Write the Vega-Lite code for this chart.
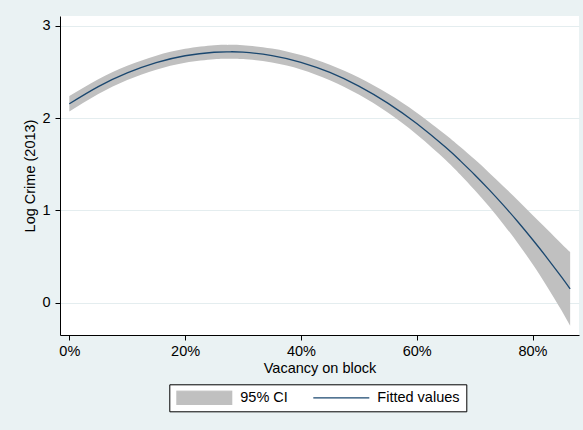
{
  "$schema": "https://vega.github.io/schema/vega-lite/v6.json",
  "width": 519,
  "height": 319,
  "autosize": {"type": "none"},
  "padding": {"left": 60, "top": 16, "right": 4, "bottom": 95},
  "background": "#EAF2F3",
  "config": {
    "view": {"fill": "white", "stroke": null},
    "font": "Liberation Sans",
    "axis": {
      "domainColor": "black",
      "domainWidth": 1,
      "tickColor": "black",
      "tickSize": 5,
      "tickWidth": 1,
      "labelColor": "black",
      "titleColor": "black",
      "labelFont": "Liberation Sans",
      "titleFont": "Liberation Sans",
      "labelFontSize": 14.5,
      "titleFontSize": 14.5,
      "titleFontWeight": "normal",
      "gridColor": "#E4EDEF",
      "gridWidth": 1
    },
    "legend": {
      "labelFont": "Liberation Sans",
      "labelFontSize": 14.5,
      "labelColor": "black",
      "title": null,
      "orient": "none",
      "legendX": 109.3,
      "legendY": 368.3,
      "direction": "horizontal",
      "columns": 2,
      "padding": 6,
      "strokeColor": "black",
      "fillColor": "white",
      "symbolSize": 3136,
      "symbolStrokeWidth": 1.3,
      "clipHeight": 15,
      "labelOffset": 7,
      "columnPadding": 24
    }
  },
  "data": {
    "values": [
      {"vac": 0.000, "fit": 2.156, "lo": 2.072, "hi": 2.240},
      {"vac": 0.050, "fit": 2.342, "lo": 2.262, "hi": 2.422},
      {"vac": 0.100, "fit": 2.491, "lo": 2.414, "hi": 2.568},
      {"vac": 0.150, "fit": 2.602, "lo": 2.526, "hi": 2.678},
      {"vac": 0.200, "fit": 2.677, "lo": 2.602, "hi": 2.752},
      {"vac": 0.250, "fit": 2.715, "lo": 2.640, "hi": 2.790},
      {"vac": 0.275, "fit": 2.720, "lo": 2.645, "hi": 2.795},
      {"vac": 0.300, "fit": 2.716, "lo": 2.641, "hi": 2.791},
      {"vac": 0.350, "fit": 2.679, "lo": 2.603, "hi": 2.755},
      {"vac": 0.400, "fit": 2.606, "lo": 2.528, "hi": 2.684},
      {"vac": 0.450, "fit": 2.496, "lo": 2.412, "hi": 2.580},
      {"vac": 0.500, "fit": 2.348, "lo": 2.256, "hi": 2.440},
      {"vac": 0.550, "fit": 2.164, "lo": 2.061, "hi": 2.267},
      {"vac": 0.600, "fit": 1.942, "lo": 1.824, "hi": 2.060},
      {"vac": 0.650, "fit": 1.684, "lo": 1.548, "hi": 1.820},
      {"vac": 0.675, "fit": 1.540, "lo": 1.390, "hi": 1.690},
      {"vac": 0.700, "fit": 1.388, "lo": 1.222, "hi": 1.554},
      {"vac": 0.725, "fit": 1.226, "lo": 1.042, "hi": 1.410},
      {"vac": 0.750, "fit": 1.055, "lo": 0.849, "hi": 1.261},
      {"vac": 0.775, "fit": 0.875, "lo": 0.642, "hi": 1.108},
      {"vac": 0.800, "fit": 0.685, "lo": 0.420, "hi": 0.950},
      {"vac": 0.825, "fit": 0.487, "lo": 0.177, "hi": 0.797},
      {"vac": 0.850, "fit": 0.279, "lo": -0.081, "hi": 0.639},
      {"vac": 0.865, "fit": 0.149, "lo": -0.251, "hi": 0.549}
    ]
  },
  "encoding": {
    "x": {
      "field": "vac",
      "type": "quantitative",
      "scale": {"domain": [-0.0161, 0.8803], "nice": false, "zero": false},
      "axis": {
        "title": "Vacancy on block",
        "values": [0, 0.2, 0.4, 0.6, 0.8],
        "format": ".0%",
        "grid": false,
        "labelFlush": false,
        "labelPadding": 4,
        "titlePadding": 4
      }
    }
  },
  "layer": [
    {
      "mark": {"type": "area", "interpolate": "natural", "opacity": 1},
      "encoding": {
        "y": {
          "field": "lo",
          "type": "quantitative",
          "scale": {"domain": [-0.35, 3.108], "nice": false, "zero": false},
          "axis": {
            "title": "Log Crime (2013)",
            "values": [0, 1, 2, 3],
            "format": "d",
            "grid": true,
            "labelPadding": 5,
            "titlePadding": 4
          }
        },
        "y2": {"field": "hi"},
        "color": {
          "datum": "95% CI",
          "type": "nominal",
          "scale": {
            "domain": ["95% CI", "Fitted values"],
            "range": ["#C0C0C0", "#1A476F"]
          },
          "legend": {
            "encode": {
              "symbols": {
                "update": {
                  "shape": {"signal": "datum.value === '95% CI' ? 'M-0.977,-0.2375H0.977V0.2375H-0.977Z' : 'M-1,0H1'"},
                  "fill": {"signal": "datum.value === '95% CI' ? '#C0C0C0' : 'transparent'"},
                  "stroke": {"signal": "datum.value === '95% CI' ? '#C0C0C0' : '#1A476F'"},
                  "opacity": {"value": 1}
                }
              }
            }
          }
        }
      }
    },
    {
      "mark": {"type": "line", "interpolate": "natural", "strokeWidth": 1.3},
      "encoding": {
        "y": {"field": "fit", "type": "quantitative"},
        "color": {
          "datum": "Fitted values",
          "type": "nominal",
          "legend": {
            "encode": {
              "symbols": {
                "update": {
                  "shape": {"signal": "datum.value === '95% CI' ? 'M-0.977,-0.2375H0.977V0.2375H-0.977Z' : 'M-1,0H1'"},
                  "fill": {"signal": "datum.value === '95% CI' ? '#C0C0C0' : 'transparent'"},
                  "stroke": {"signal": "datum.value === '95% CI' ? '#C0C0C0' : '#1A476F'"},
                  "opacity": {"value": 1}
                }
              }
            }
          }
        }
      }
    }
  ]
}
